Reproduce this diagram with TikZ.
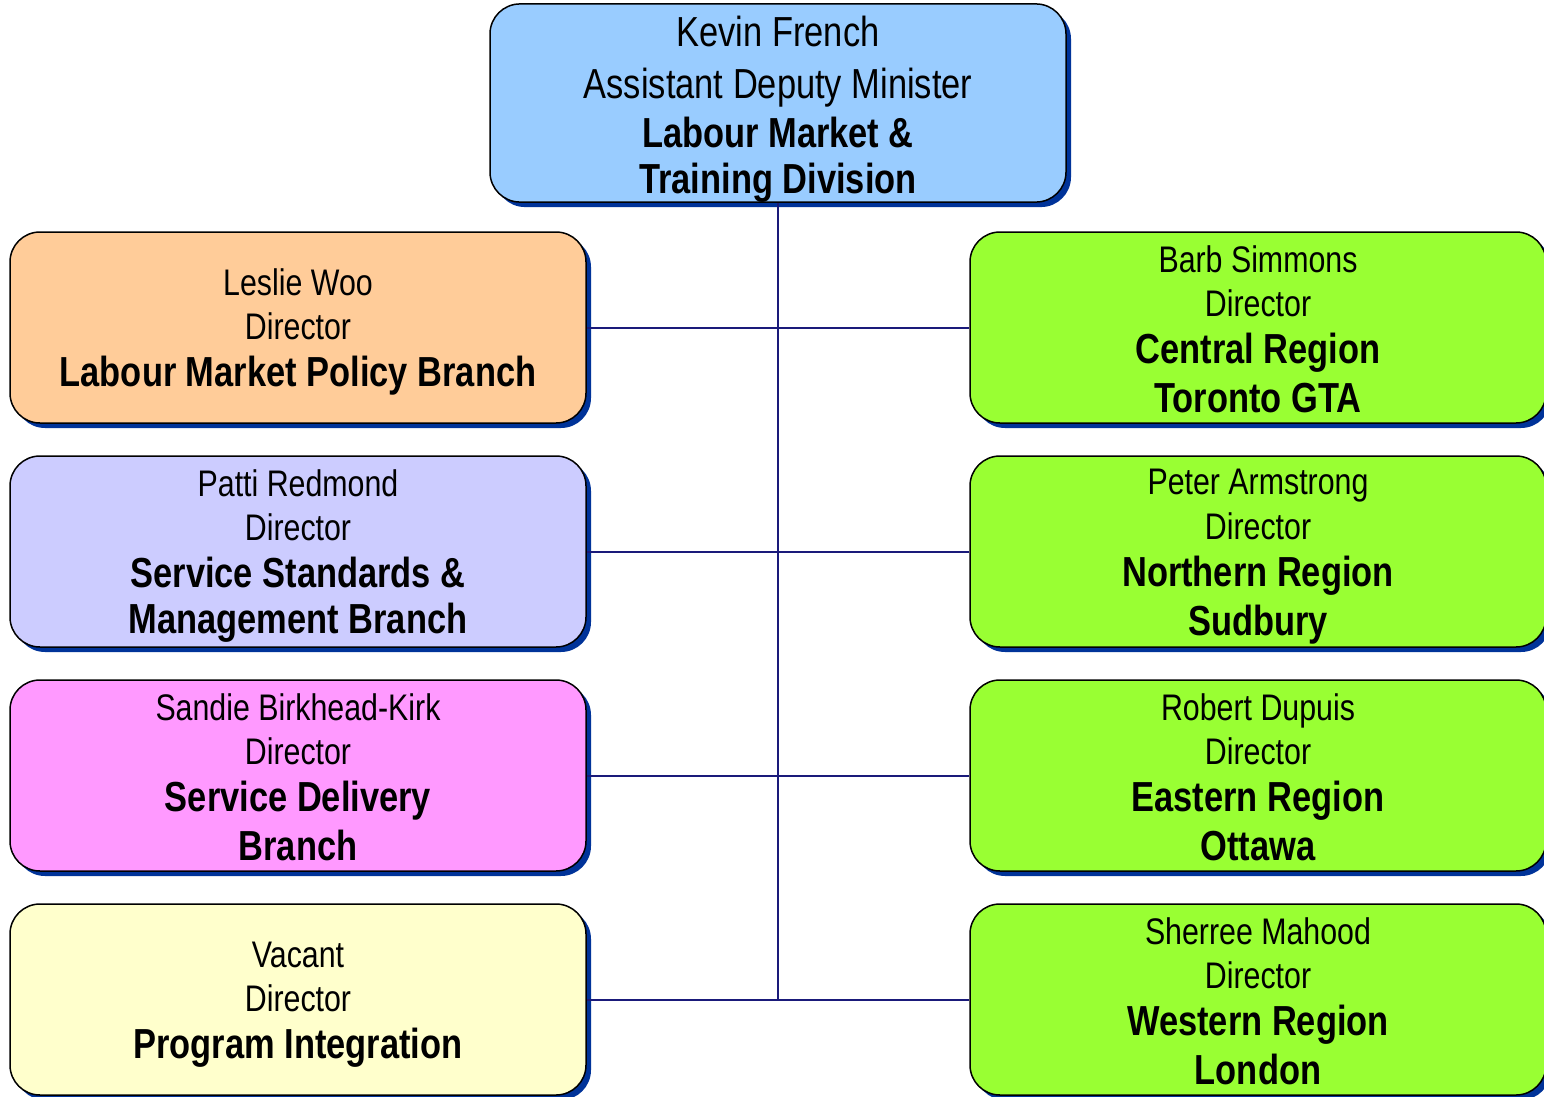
\documentclass[tikz,border=0pt]{standalone}
\usepackage{fontspec}
\setmainfont[FakeStretch=0.82]{Liberation Sans}
\usepackage{xcolor}
\usetikzlibrary{shadows, math}
\definecolor{admblue}{RGB}{153, 204, 255}
\definecolor{policyorange}{RGB}{255, 204, 153}
\definecolor{servicelilac}{RGB}{204, 204, 255}
\definecolor{deliverypink}{RGB}{255, 153, 255}
\definecolor{programyellow}{RGB}{255, 255, 204}
\definecolor{regiongreen}{RGB}{153, 255, 51}
\definecolor{shadowblue}{RGB}{0, 51, 153}
\definecolor{linknavy}{RGB}{26, 26, 122}

% every line carries its own strut, so lines stack evenly
\newcommand{\who}[1]{\vrule width 0pt height 36pt depth 7pt\relax #1}
\newcommand{\unitname}[1]{\vrule width 0pt height 39pt depth 6pt\relax{\fontsize{42}{0}\selectfont\bfseries #1}}

\tikzset{
  orgunit/.style={draw=black, line width=1.5, rounded corners=30,
    minimum width=576, minimum height=191, inner sep=0, align=center,
    font=\fontsize{37}{0}\selectfont,
    drop shadow={shadow xshift=5, shadow yshift=5, fill=shadowblue, opacity=1}},
  link/.style={draw=linknavy, line width=2},
}

\begin{document}
\begin{tikzpicture}[x=1pt, y=-1pt]
\tikzmath{
\xl=298; \xr=1258; \xm=778;
\yt=327.5; \dy=224;
}
\useasboundingbox (0,0) rectangle (1544,1097);

% division head
\node[orgunit, fill=admblue, font=\fontsize{42}{0}\selectfont] (adm) at (\xm,103)
  {\vrule width 0pt height 42.5pt depth 12.5pt\relax Kevin French\\
   \vrule width 0pt height 38.5pt depth 7pt\relax Assistant Deputy Minister\\
   \unitname{Labour Market \&}\\ \unitname{Training Division}};

% branches
\node[orgunit, fill=policyorange] (policy) at (\xl,\yt)
  {\who{Leslie Woo}\\ \who{Director}\\ \unitname{Labour Market Policy Branch}};
\node[orgunit, fill=servicelilac] (standards) at (\xl,\yt+\dy)
  {\who{Patti Redmond}\\ \who{Director}\\ \unitname{Service Standards \&}\\ \unitname{Management Branch}};
\node[orgunit, fill=deliverypink] (delivery) at (\xl,\yt+2*\dy)
  {\who{Sandie Birkhead-Kirk}\\ \who{Director}\\ \unitname{Service Delivery}\\ \unitname{Branch}};
\node[orgunit, fill=programyellow] (integration) at (\xl,\yt+3*\dy)
  {\who{Vacant}\\ \who{Director}\\ \unitname{Program Integration}};

% regions
\node[orgunit, fill=regiongreen] (central) at (\xr,\yt)
  {\who{Barb Simmons}\\ \who{Director}\\ \unitname{Central Region}\\ \unitname{Toronto GTA}};
\node[orgunit, fill=regiongreen] (northern) at (\xr,\yt+\dy)
  {\who{Peter Armstrong}\\ \who{Director}\\ \unitname{Northern Region}\\ \unitname{Sudbury}};
\node[orgunit, fill=regiongreen] (eastern) at (\xr,\yt+2*\dy)
  {\who{Robert Dupuis}\\ \who{Director}\\ \unitname{Eastern Region}\\ \unitname{Ottawa}};
\node[orgunit, fill=regiongreen] (western) at (\xr,\yt+3*\dy)
  {\who{Sherree Mahood}\\ \who{Director}\\ \unitname{Western Region}\\ \unitname{London}};

% reporting lines
\coordinate (trunk) at (\xm,\yt+3*\dy);
\draw[link] (adm.south) -- (trunk);
\foreach \a/\b in {policy/central, standards/northern, delivery/eastern, integration/western}{
\draw[link] (\a.east) -- (\b.west);
}
\end{tikzpicture}
\end{document}
